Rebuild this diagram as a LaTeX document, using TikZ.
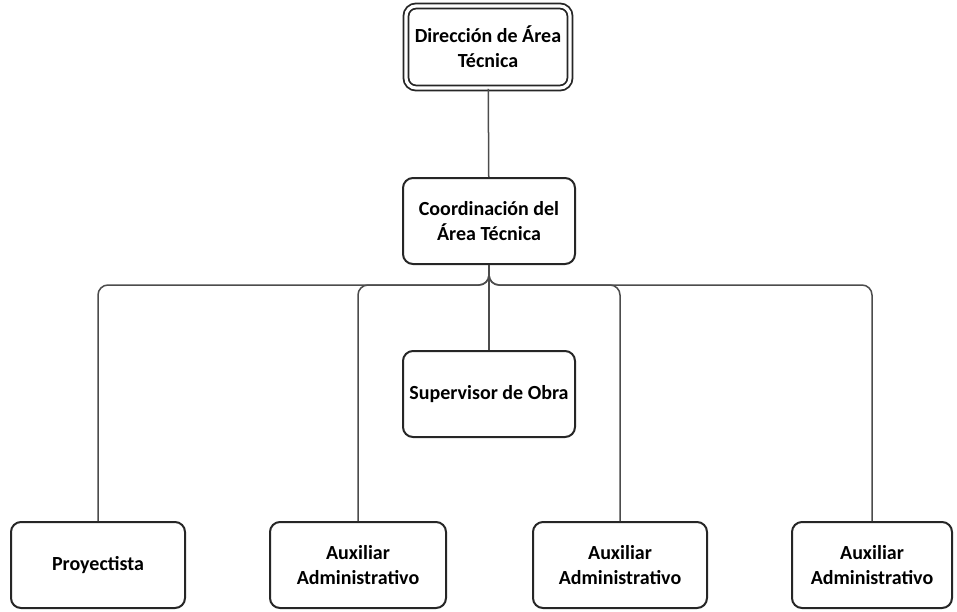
\documentclass[tikz,border=0pt]{standalone}
\usepackage{fontspec}
\setmainfont{Carlito}
\usepackage{tikz}
\usetikzlibrary{positioning}
\tikzset{%
  box/.style={draw=black!85, line width=1pt, rounded corners=5pt, fill=white,
    align=center, font=\bfseries\fontsize{10}{12.5}\selectfont, inner sep=2pt,
    minimum width=86pt, minimum height=43pt},
  top box/.style={box, double=white, double distance=1.6pt, line width=0.9pt,
    minimum width=82pt, minimum height=41pt},
  link/.style={draw=black!70, line width=0.75pt, rounded corners=5pt}
}

\begin{document}
\begin{tikzpicture}[x=0.5pt, y=-0.5pt]
    % \draw (0,0) grid (957,611);
    \useasboundingbox (0,0) rectangle (957,611);

      \node[top box] (dir) at (488,47) {Dirección de Área\\Técnica};
      \node[box] (coord) at (489,221) {Coordinación del\\Área Técnica};
      \node[box] (sup) at (489,394) {Supervisor de Obra};
      \node[box, minimum width=87pt] (proy) at (98,565) {Proyectista};
      \node[box, minimum width=88pt] (aux1) at (358,565) {Auxiliar\\Administrativo};
      \node[box, minimum width=87pt] (aux2) at (620,565) {Auxiliar\\Administrativo};
      \node[box, minimum width=80pt] (aux3) at (872,565) {Auxiliar\\Administrativo};

      \draw[link] (dir) -- (coord);
      \draw[link] (coord) -- (sup);
      \foreach \n in {proy, aux1, aux2, aux3}
        \draw[link] (coord.south) -- ++(0,20) -| (\n.north);

  \end{tikzpicture}
\end{document}
